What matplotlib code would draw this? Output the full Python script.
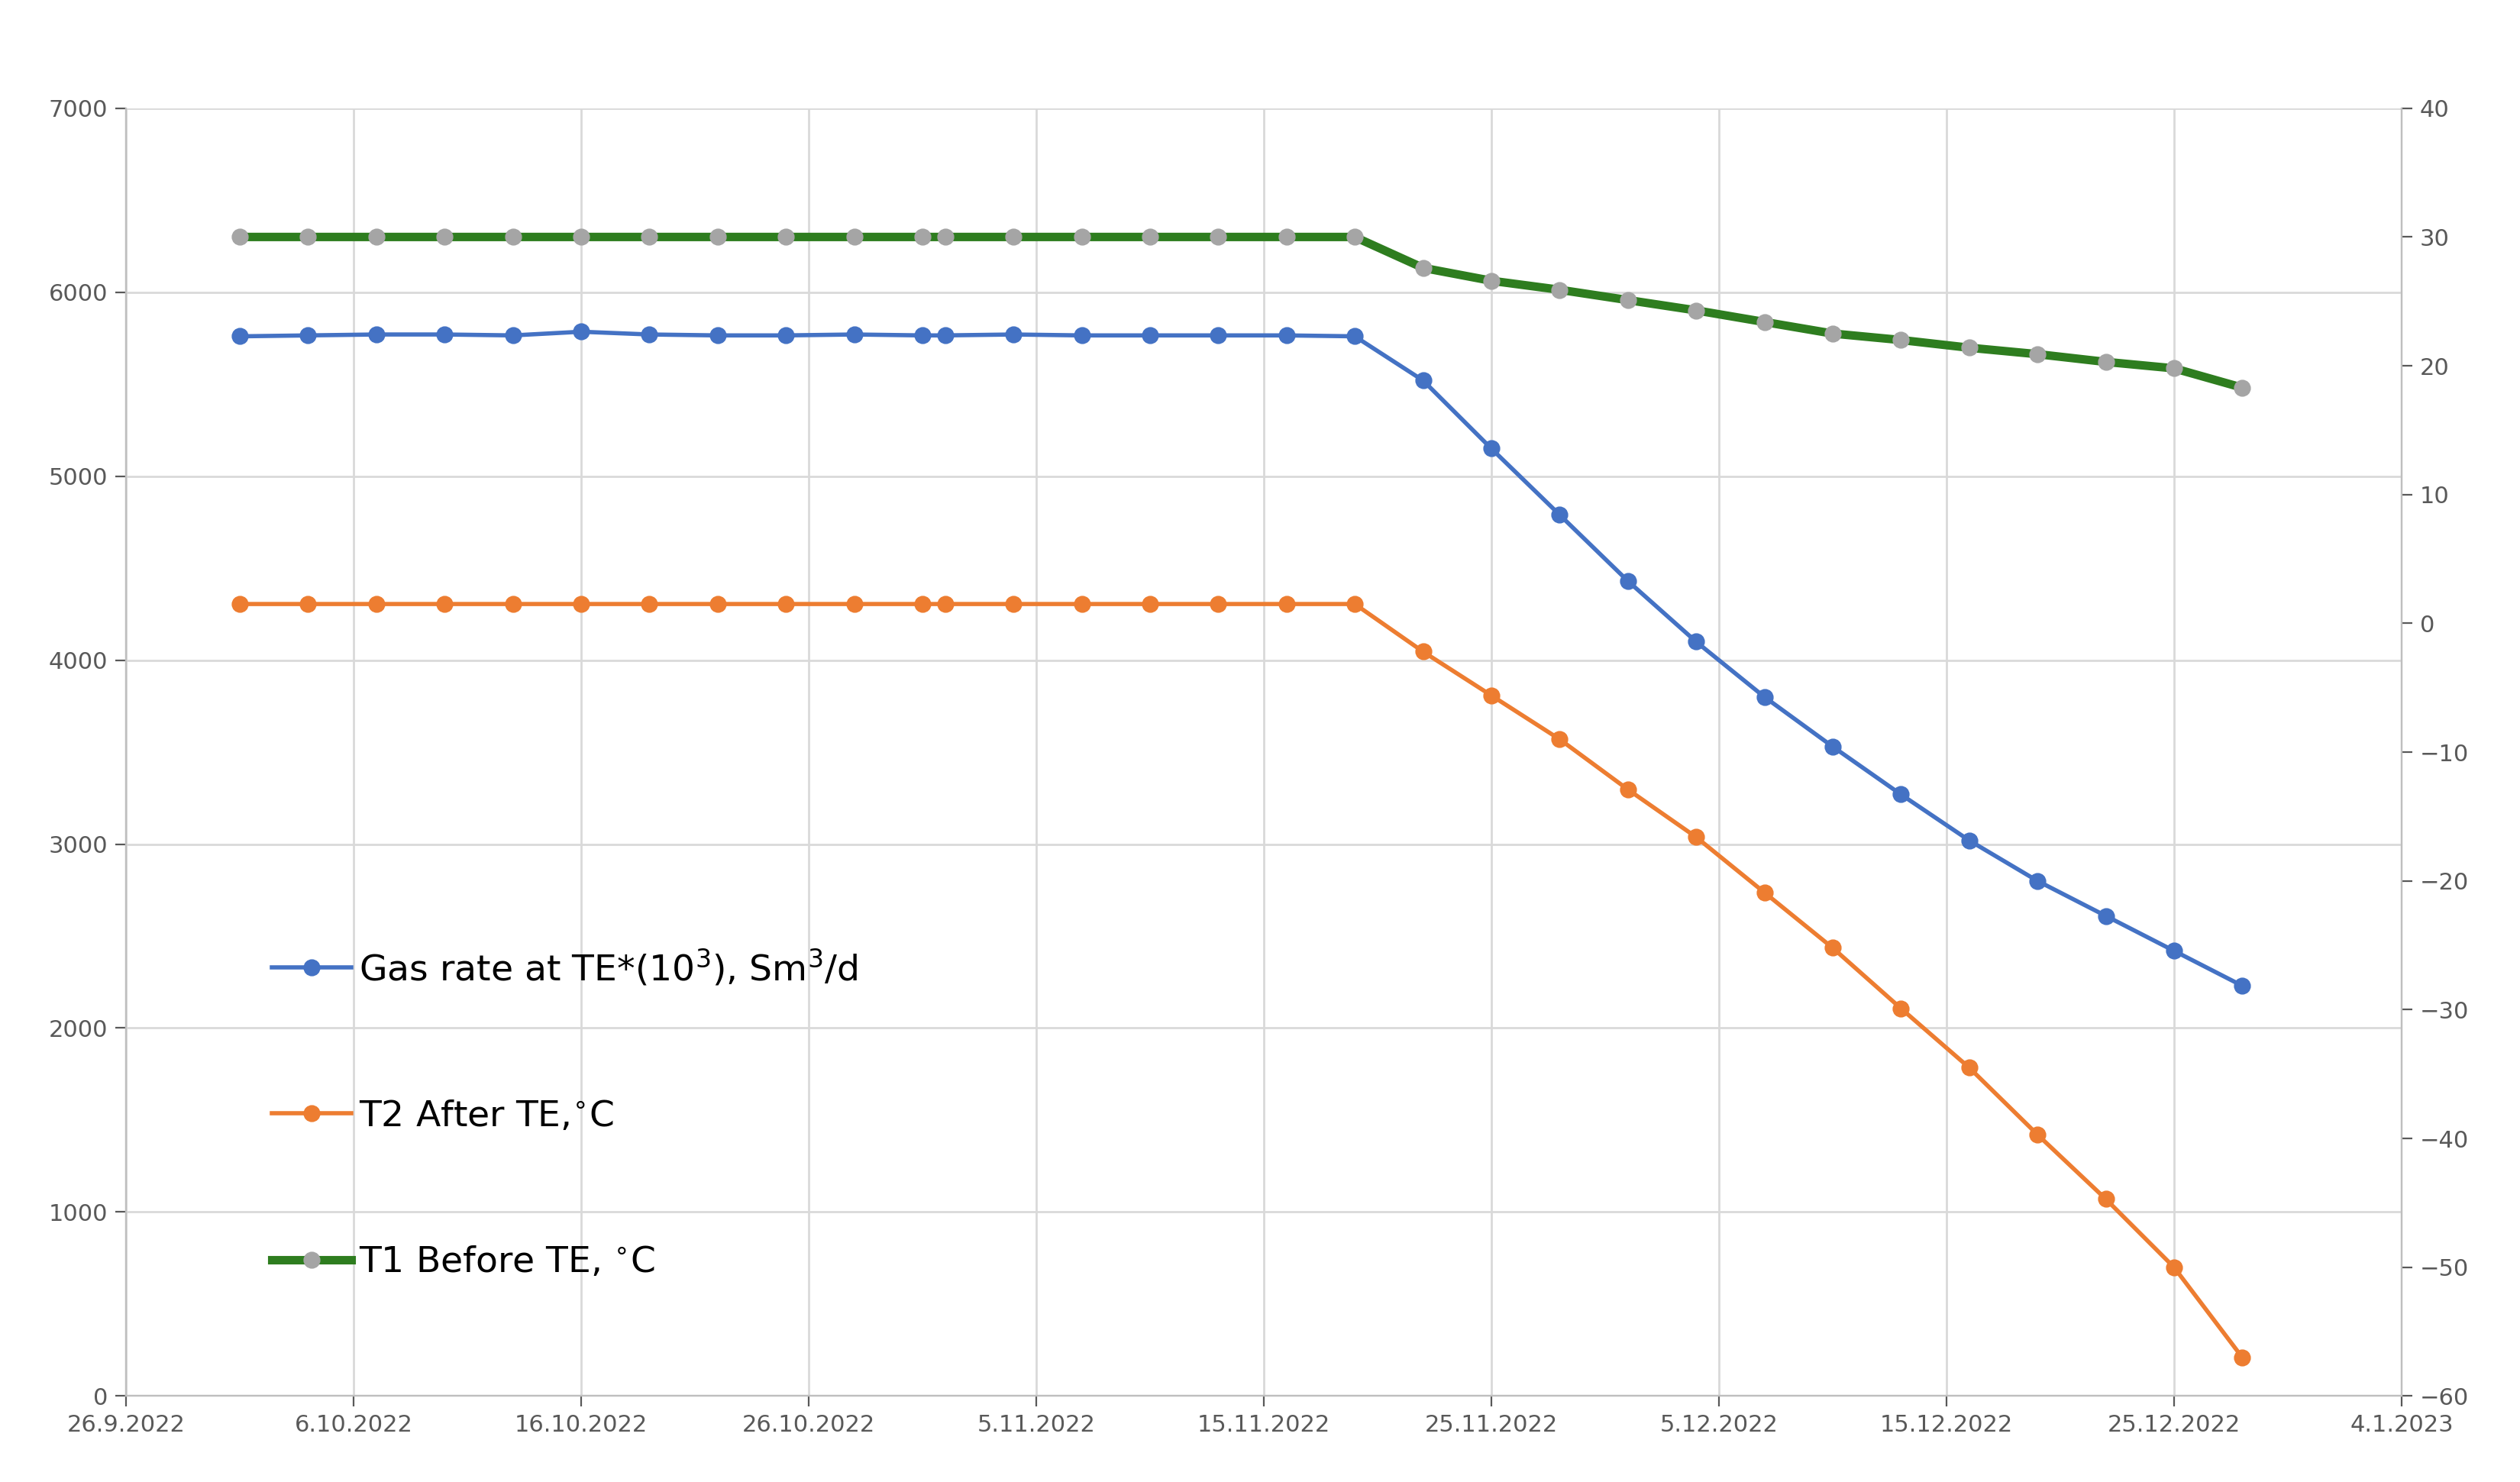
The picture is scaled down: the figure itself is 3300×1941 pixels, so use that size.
import datetime as dt
import matplotlib
matplotlib.use("Agg")
from matplotlib import pyplot as plt
from matplotlib import dates as mdates

start = dt.date(2022, 9, 26)
day_offsets = [5, 8, 11, 14, 17, 20, 23, 26, 29, 32, 35, 36, 39, 42, 45, 48, 51, 54,
               57, 60, 63, 66, 69, 72, 75, 78, 81, 84, 87, 90, 93]
dates = [start + dt.timedelta(days=d) for d in day_offsets]

gas_rate = [5760, 5765, 5770, 5770, 5765, 5785, 5770, 5765, 5765, 5770, 5765, 5765,
            5770, 5765, 5765, 5765, 5765, 5760,
            5520, 5150, 4790, 4430, 4100, 3800, 3530, 3270, 3020, 2800, 2610, 2420, 2230]
t2_after = [1.5] * 18 + [-2.2, -5.6, -9.0, -12.9, -16.6, -20.9, -25.2, -29.9, -34.5,
                         -39.7, -44.7, -50.0, -57.0]
t1_before = [30.0] * 18 + [27.6, 26.6, 25.9, 25.1, 24.3, 23.4, 22.5, 22.0, 21.4,
                           20.9, 20.3, 19.8, 18.3]

tick_dates = [start + dt.timedelta(days=10 * i) for i in range(11)]

plt.rcParams["font.family"] = ["DejaVu Sans"]
fig = plt.figure(figsize=(16.5, 9.705), dpi=200)
ax = fig.add_axes([0.05, 0.058, 0.903, 0.869])
ax2 = ax.twinx()

l1, = ax.plot(dates, gas_rate, color="#4472C4", marker="o", markersize=7, lw=2,
              label="Gas rate at TE*(10$^3$), Sm$^3$/d")
l2, = ax2.plot(dates, t2_after, color="#ED7D31", marker="o", markersize=7, lw=2,
               label="T2 After TE,$^{\\circ}$C")
l3, = ax2.plot(dates, t1_before, color="#2E7D1F", marker="o", markersize=7, lw=4,
               markerfacecolor="#A5A5A5", markeredgecolor="#A5A5A5",
               label="T1 Before TE, $^{\\circ}$C")

ax.set_xlim(tick_dates[0], tick_dates[-1])
ax.set_xticks(tick_dates)
ax.xaxis.set_major_formatter(
    matplotlib.ticker.FuncFormatter(lambda v, p: (lambda d: f"{d.day}.{d.month}.{d.year}")(mdates.num2date(v))))
ax.set_ylim(0, 7000)
ax.set_yticks(range(0, 7001, 1000))
ax2.set_ylim(-60, 40)
ax2.set_yticks(range(-60, 41, 10))

ax.grid(True, color="#D9D9D9", lw=1)
ax.set_axisbelow(True)
for a in (ax, ax2):
    for s in a.spines.values():
        s.set_color("#BFBFBF")
    a.spines["top"].set_visible(False)
    a.tick_params(colors="#595959", labelsize=11, length=5)

leg = ax.legend(handles=[l1, l2, l3], loc="lower left", bbox_to_anchor=(0.05, 0.065),
                frameon=False, fontsize=17, labelspacing=3.1, handlelength=2.2,
                handletextpad=0.2)

plt.savefig("out.png", dpi=200)
